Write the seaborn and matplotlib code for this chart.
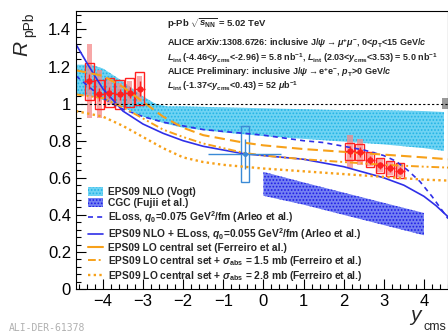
import numpy as np
import pandas as pd
import matplotlib
matplotlib.use('Agg')
import matplotlib.pyplot as plt
import seaborn as sns
from matplotlib.patches import Rectangle, Patch
from matplotlib.lines import Line2D
from matplotlib.ticker import MultipleLocator

# ALICE data, forward / backward (mu+mu-)
y_mu = [-4.335, -4.085, -3.835, -3.585, -3.335, -3.085,
        2.155, 2.405, 2.655, 2.905, 3.155, 3.405]
r_mu = [1.12, 1.05, 1.06, 1.05, 1.06, 1.08,
        0.742, 0.739, 0.697, 0.667, 0.652, 0.638]
stat_mu = [0.04, 0.035, 0.03, 0.03, 0.03, 0.04,
           0.03, 0.025, 0.02, 0.02, 0.02, 0.02]
syst_mu = [0.10, 0.08, 0.08, 0.08, 0.08, 0.09,
           0.045, 0.045, 0.04, 0.04, 0.04, 0.04]
corr_mu = [0.20, 0.13, 0.07, 0.06, 0.06, 0.07,
           0.088, 0.07, 0.035, 0.035, 0.035, 0.035]

# ALICE preliminary, mid rapidity (e+e-)
y_ee = [-0.47]
r_ee = [0.728]
stat_ee = [0.08]
syst_ee = [0.15]
ee_lo, ee_hi = -1.37, 0.43

# models
vogt_x = [-4.67, -4.3, -4.0, -3.5, -3.0, -2.7, -2.4, -2.0, -1.0, 0.0, 1.0, 2.0, 3.0, 4.0, 4.5]
vogt_hi = [1.21, 1.21, 1.19, 1.12, 1.04, 1.00, 0.985, 0.985, 0.98, 0.975, 0.97, 0.965, 0.965, 0.96, 0.955]
vogt_lo = [1.05, 1.04, 1.02, 0.98, 0.93, 0.91, 0.89, 0.87, 0.845, 0.825, 0.81, 0.795, 0.78, 0.76, 0.745]

cgc_x = [0.0, 1.0, 2.0, 3.0, 4.0]
cgc_hi = [0.632, 0.575, 0.52, 0.465, 0.41]
cgc_lo = [0.503, 0.455, 0.40, 0.345, 0.29]

eloss_x = [-4.67, -4.4, -4.0, -3.5, -3.0, -2.5, -2.0, -1.5, -1.0, -0.5, 0.0, 0.5, 1.0, 1.5, 2.0,
           2.5, 3.0, 3.3, 3.6, 3.9, 4.2, 4.5, 4.6]
eloss_r = [1.15, 1.10, 1.03, 0.97, 0.93, 0.90, 0.88, 0.86, 0.85, 0.84, 0.83, 0.815, 0.80, 0.79, 0.77,
           0.75, 0.72, 0.69, 0.64, 0.58, 0.50, 0.41, 0.38]

nlo_eloss_x = [-4.67, -4.4, -4.0, -3.5, -3.0, -2.5, -2.0, -1.5, -1.0, -0.5, 0.0, 0.5, 1.0, 1.5, 2.0,
               2.5, 3.0, 3.5, 4.0, 4.3, 4.6]
nlo_eloss_r = [1.32, 1.22, 1.08, 0.96, 0.89, 0.84, 0.80, 0.77, 0.75, 0.73, 0.72, 0.71, 0.70, 0.68, 0.66,
               0.63, 0.60, 0.56, 0.50, 0.45, 0.39]

lo_x = [-4.67, -4.0, -3.5, -3.0, -2.5, -2.0, -1.5, -1.0, -0.5, 0.0, 1.0, 2.0, 3.0, 4.0, 4.6]
lo_r = [1.18, 1.15, 1.09, 1.01, 0.93, 0.87, 0.83, 0.81, 0.79, 0.775, 0.755, 0.74, 0.725, 0.71, 0.70]

abs15_x = [-4.67, -4.0, -3.5, -3.0, -2.5, -2.0, -1.5, -1.0, -0.5, 0.0, 1.0, 2.0, 3.0, 4.0, 4.6]
abs15_r = [1.05, 1.03, 0.98, 0.92, 0.86, 0.82, 0.785, 0.76, 0.735, 0.72, 0.70, 0.685, 0.67, 0.66, 0.655]

abs28_x = [-4.67, -4.0, -3.5, -3.0, -2.5, -2.0, -1.5, -1.0, -0.5, 0.0, 1.0, 2.0, 3.0, 4.0, 4.6]
abs28_r = [0.96, 0.93, 0.88, 0.82, 0.76, 0.71, 0.685, 0.67, 0.66, 0.65, 0.635, 0.62, 0.605, 0.59, 0.585]

sns.set_theme(style='ticks')
plt.rcParams['font.family'] = ['Liberation Sans', 'DejaVu Sans']
plt.rcParams['mathtext.fontset'] = 'custom'
plt.rcParams['mathtext.rm'] = 'Liberation Sans:bold'
plt.rcParams['mathtext.it'] = 'Liberation Sans:italic:bold'
plt.rcParams['mathtext.bf'] = 'Liberation Sans:bold'
plt.rcParams['hatch.linewidth'] = 0.8

BLUE = '#2f2fe8'
ORANGE = '#f7a11a'
RED = '#ff2020'
CYAN_FACE, CYAN_DOT = '#6fd3f3', '#22b4e6'
CGC_FACE, CGC_DOT = '#7480f2', '#1c1ce6'

fig = plt.figure(figsize=(4.48, 3.33), dpi=100)
ax = fig.add_axes([0.1696, 0.1321, 0.8304, 0.835])

# bands
ax.fill_between(vogt_x, vogt_lo, vogt_hi, facecolor=CYAN_FACE, edgecolor=CYAN_DOT, hatch='.....', lw=0)
ax.fill_between(cgc_x, cgc_lo, cgc_hi, facecolor=CGC_FACE, edgecolor=CGC_DOT, hatch='.....', lw=0)

# model curves
curves = [
    (eloss_x, eloss_r, BLUE, (0, (3, 2.5)), 1.2),
    (nlo_eloss_x, nlo_eloss_r, BLUE, '-', 1.2),
    (lo_x, lo_r, ORANGE, (0, (5, 2.5)), 1.5),
    (abs15_x, abs15_r, ORANGE, (0, (4, 1.5, 1, 1.5, 1, 1.5)), 1.4),
    (abs28_x, abs28_r, ORANGE, (0, (1, 1.4)), 1.7),
]
for cx, cy, col, ls, lw in curves:
    df = pd.DataFrame({'y': cx, 'R': cy})
    sns.lineplot(data=df, x='y', y='R', ax=ax, color=col, linestyle=ls, lw=lw)

# unity line and global uncertainty
ax.axhline(1.0, color='black', lw=0.8, linestyle=(0, (2, 2)))
ax.add_patch(Rectangle((4.45, 0.97), 0.3, 0.06, facecolor='#9a9a9a', edgecolor='none'))

# data: correlated (shaded), uncorrelated syst (open boxes), stat
for x, r, c, s in zip(y_mu, r_mu, corr_mu, syst_mu):
    ax.add_patch(Rectangle((x - 0.07, r - c), 0.14, 2 * c, facecolor='#f58a8a', alpha=0.75, edgecolor='none'))
    ax.add_patch(Rectangle((x - 0.11, r - s), 0.22, 2 * s, facecolor='none', edgecolor=RED, lw=1.0))
ax.errorbar(y_mu, r_mu, yerr=stat_mu, xerr=0.125, fmt='o', ms=3.5, color=RED, elinewidth=1.0, capsize=0)

for x, r, s in zip(y_ee, r_ee, syst_ee):
    ax.add_patch(Rectangle((x - 0.1, r - s), 0.2, 2 * s, facecolor='none', edgecolor='#3a8ad6', lw=1.0))
ax.errorbar(y_ee, r_ee, yerr=stat_ee, xerr=[[y_ee[0] - ee_lo], [ee_hi - y_ee[0]]],
            fmt='o', ms=2.5, color='#3a8ad6', elinewidth=1.0, capsize=0)

ax.set_xlim(-4.67, 4.6)
ax.set_ylim(0, 1.5)
ax.set_xlabel('')
ax.set_ylabel('')
ax.xaxis.set_major_locator(MultipleLocator(1))
ax.xaxis.set_minor_locator(MultipleLocator(0.2))
ax.yaxis.set_minor_locator(MultipleLocator(0.04))
ax.set_yticks([0, 0.2, 0.4, 0.6, 0.8, 1.0, 1.2, 1.4])
ax.set_yticklabels(['0', '0.2', '0.4', '0.6', '0.8', '1', '1.2', '1.4'])
ax.tick_params(which='both', direction='in', top=False, right=False, labelsize=12, colors='black')
ax.tick_params(which='major', length=7, width=0.8)
ax.tick_params(which='minor', length=3.5, width=0.8)
for sp in ax.spines.values():
    sp.set_linewidth(0.8)
    sp.set_color('black')

# axis titles (plain text so they stay regular weight)
fig.text(0.049, 0.855, 'R', rotation=90, fontsize=15, style='italic', ha='center', va='center')
fig.text(0.064, 0.925, 'pPb', rotation=90, fontsize=10, ha='center', va='center')
fig.text(0.916, 0.036, 'y', fontsize=15, style='italic', ha='left', va='baseline')
fig.text(0.945, 0.009, 'cms', fontsize=9, ha='left', va='baseline')

# annotations
tx = 0.372
fs = 6.5
fig.text(tx, 0.928, r'p-Pb $\sqrt{s_{\rm NN}}$ = 5.02 TeV', fontsize=6.8, weight='bold', va='center')
fig.text(tx, 0.869, r'ALICE arXiv:1308.6726: inclusive J/$\psi\rightarrow\mu^{+}\mu^{-}$, 0<$p_{\rm T}$<15 GeV/$c$',
         fontsize=fs, weight='bold', va='center')
fig.text(tx, 0.826, r'$L_{\rm int}$ (-4.46<$y_{\rm cms}$<-2.96) = 5.8 nb$^{-1}$, $L_{\rm int}$ (2.03<$y_{\rm cms}$<3.53) = 5.0 nb$^{-1}$',
         fontsize=fs, weight='bold', va='center')
fig.text(tx, 0.783, r'ALICE Preliminary: inclusive J/$\psi\rightarrow$e$^{+}$e$^{-}$, $p_{\rm T}$>0 GeV/$c$',
         fontsize=fs, weight='bold', va='center')
fig.text(tx, 0.740, r'$L_{\rm int}$ (-1.37<$y_{\rm cms}$<0.43) = 52 $\mu$b$^{-1}$',
         fontsize=fs, weight='bold', va='center')

handles = [
    Patch(facecolor=CYAN_FACE, edgecolor=CYAN_DOT, hatch='.....', lw=0),
    Patch(facecolor=CGC_FACE, edgecolor=CGC_DOT, hatch='.....', lw=0),
    Line2D([], [], color=BLUE, linestyle=(0, (3, 2.5)), lw=1.2),
    Line2D([], [], color=BLUE, lw=1.2),
    Line2D([], [], color=ORANGE, lw=1.5),
    Line2D([], [], color=ORANGE, linestyle=(0, (4, 1.5, 1, 1.5, 1, 1.5)), lw=1.4),
    Line2D([], [], color=ORANGE, linestyle=(0, (1, 1.4)), lw=1.7),
]
labels = [
    'EPS09 NLO (Vogt)',
    'CGC (Fujii et al.)',
    r'ELoss, $q_{0}$=0.075 GeV$^{2}$/fm (Arleo et al.)',
    r'EPS09 NLO + ELoss, $q_{0}$=0.055 GeV$^{2}$/fm (Arleo et al.)',
    'EPS09 LO central set (Ferreiro et al.)',
    r'EPS09 LO central set + $\sigma_{\rm abs}$ = 1.5 mb (Ferreiro et al.)',
    r'EPS09 LO central set + $\sigma_{\rm abs}$ = 2.8 mb (Ferreiro et al.)',
]
leg = ax.legend(handles, labels, loc='upper left', bbox_to_anchor=(0.196, 0.438),
                bbox_transform=fig.transFigure, frameon=False,
                prop={'weight': 'bold', 'size': 7.4}, handlelength=1.5, handleheight=0.9,
                handletextpad=0.45, labelspacing=0.1, borderpad=0, borderaxespad=0)

fig.text(0.02, 0.006, 'ALI-DER-61378', fontsize=7, family='DejaVu Sans Mono', color='#b0b0b0')

fig.savefig('out.png', dpi=100)
